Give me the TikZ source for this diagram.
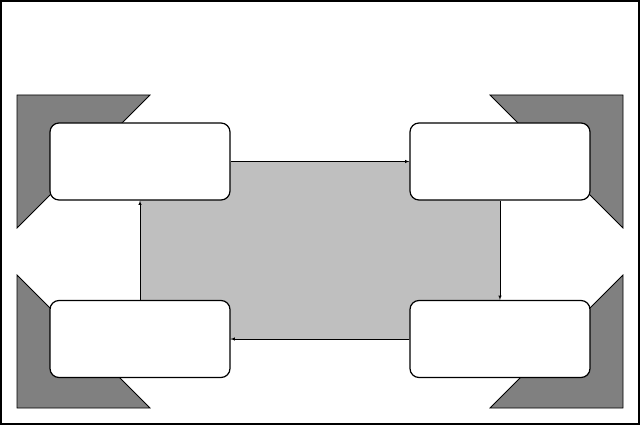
\documentclass[tikz,border=0pt]{standalone}
\begin{document}
\begin{tikzpicture}[x=1pt,y=-1pt,
  corner/.style={fill=black!50,draw=black,line width=0.8pt},
  box/.style={draw=black,fill=white,rounded corners=9pt,line width=1.2pt,minimum width=180pt,minimum height=77pt,inner sep=0pt},
  arr/.style={-latex,line width=0.5pt}]
\draw[line width=2pt,fill=white] (1,1) rectangle (639,424);
\useasboundingbox (0,0) rectangle (640,425);
\fill[black!25] (140,162) rectangle (500,340);
\draw[corner] (17,95) -- (150,95) -- (17,228) -- cycle;
\draw[corner] (623,95) -- (490,95) -- (623,228) -- cycle;
\draw[corner] (17,275) -- (17,408) -- (150,408) -- cycle;
\draw[corner] (623,275) -- (623,408) -- (490,408) -- cycle;
\node[box] (tl) at (140,161.5) {};
\node[box] (tr) at (500,161.5) {};
\node[box] (bl) at (140,339) {};
\node[box] (br) at (500,339) {};
\draw[arr] (tl.east) -- (tr.west);
\draw[arr] (tr.south) -- (br.north);
\draw[arr] (br.west) -- (bl.east);
\draw[arr] (bl.north) -- (tl.south);
\end{tikzpicture}
\end{document}
